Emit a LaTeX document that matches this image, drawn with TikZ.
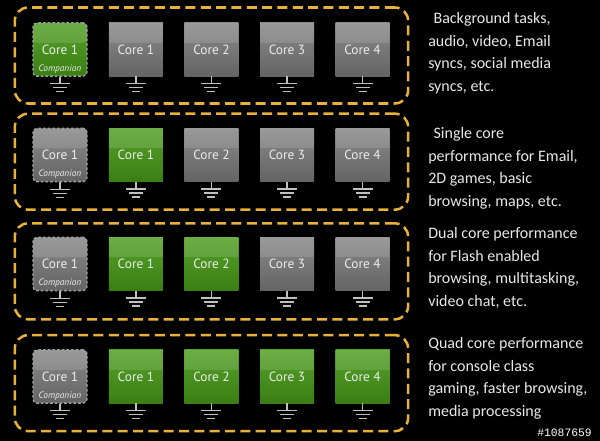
\documentclass[tikz,border=0pt]{standalone}
\usepackage{fontspec}
\setmainfont{Carlito}
\newfontfamily\corefont{PT Sans}
\newfontfamily\tagfont{Liberation Mono}
\usepackage{xcolor}
\usepackage{tikz}
\usetikzlibrary{positioning}

\definecolor{frameyellow}{RGB}{232,178,58}
\definecolor{grayhi}{RGB}{138,138,138}
\definecolor{graylo}{RGB}{100,100,100}
\definecolor{greenhi}{RGB}{86,162,42}
\definecolor{greenlo}{RGB}{58,126,20}
\definecolor{corefg}{RGB}{236,236,236}
\definecolor{notefg}{RGB}{232,232,232}
\definecolor{gndgray}{RGB}{192,192,192}

\begin{document}
\begin{tikzpicture}[
    x=0.75pt, y=-0.75pt,
    node distance=15.75pt,
    core/.style={rectangle, minimum width=40.5pt, minimum height=40pt, inner sep=0pt, top color=grayhi, bottom color=graylo, text=corefg, font=\corefont\fontsize{10}{11}\selectfont,
        path picture={\fill[white, opacity=0.13] (path picture bounding box.north west) rectangle ([yshift=-15pt]path picture bounding box.north east);}},
    active/.style={top color=greenhi, bottom color=greenlo},
    companion/.style={core, draw=gray!75, line width=1pt, dash pattern=on 2pt off 1.5pt, rounded corners=3pt, label={[comptag]south:Companion}},
    comptag/.style={anchor=south, yshift=2.5pt, inner sep=0pt, text=corefg, font=\corefont\itshape\fontsize{7}{8}\selectfont},
    group/.style={draw=frameyellow, line width=1.9pt, dash pattern=on 7.5pt off 4pt, rounded corners=10pt, minimum width=295pt, minimum height=72pt, inner sep=0pt},
    note/.style={anchor=north west, align=left, inner sep=0pt, text=notefg, font=\fontsize{12}{17}\selectfont},
    tag/.style={anchor=base east, inner sep=0pt, text=white, font=\tagfont\fontsize{8.5}{10}\selectfont},
    pics/ground/.style={code={\draw[gndgray, line width=1pt] (0,0) -- (0,7) (-10,7) -- (10,7) (-7,11) -- (7,11) (-4,15) -- (4,15);}}
]
    % Fondo
    \fill[black] (0,0) rectangle (600,441);
    \useasboundingbox (0,0) rectangle (600,441);

    % Fila 1: solo el nucleo acompanante
    \node[companion, active] (a0) at (60,49.5) {Core 1};
    \node[core, right=of a0] (a1) {Core 1};
    \node[core, right=of a1] (a2) {Core 2};
    \node[core, right=of a2] (a3) {Core 3};
    \node[core, right=of a3] (a4) {Core 4};

    % Fila 2: un nucleo
    \node[companion] (b0) at (60,155) {Core 1};
    \node[core, active, right=of b0] (b1) {Core 1};
    \node[core, right=of b1] (b2) {Core 2};
    \node[core, right=of b2] (b3) {Core 3};
    \node[core, right=of b3] (b4) {Core 4};

    % Fila 3: dos nucleos
    \node[companion] (c0) at (60,264) {Core 1};
    \node[core, active, right=of c0] (c1) {Core 1};
    \node[core, active, right=of c1] (c2) {Core 2};
    \node[core, right=of c2] (c3) {Core 3};
    \node[core, right=of c3] (c4) {Core 4};

    % Fila 4: cuatro nucleos
    \node[companion] (d0) at (60,376.5) {Core 1};
    \node[core, active, right=of d0] (d1) {Core 1};
    \node[core, active, right=of d1] (d2) {Core 2};
    \node[core, active, right=of d2] (d3) {Core 3};
    \node[core, active, right=of d3] (d4) {Core 4};

    % Tierras
    \path (a0.south) pic {ground} (a1.south) pic {ground} (a2.south) pic {ground} (a3.south) pic {ground} (a4.south) pic {ground};
    \path (b0.south) pic {ground} (b1.south) pic {ground} (b2.south) pic {ground} (b3.south) pic {ground} (b4.south) pic {ground};
    \path (c0.south) pic {ground} (c1.south) pic {ground} (c2.south) pic {ground} (c3.south) pic {ground} (c4.south) pic {ground};
    \path (d0.south) pic {ground} (d1.south) pic {ground} (d2.south) pic {ground} (d3.south) pic {ground} (d4.south) pic {ground};

    % Marcos
    \node[group] (g1) at ([yshift=-4.5pt]a2) {};
    \node[group] (g2) at ([yshift=-5pt]b2) {};
    \node[group] (g3) at ([yshift=-5.5pt]c2) {};
    \node[group] (g4) at ([yshift=-5pt]d2) {};

    % Textos
    \node[note] (t1) at (428,12) {\hspace*{4pt}Background tasks,\\audio, video, Email\\syncs, social media\\syncs, etc.};
    \node[note] (t2) at (428,127) {\hspace*{4pt}Single core\\performance for Email,\\2D games, basic\\browsing, maps, etc.};
    \node[note] (t3) at (428,227) {Dual core performance\\for Flash enabled\\browsing, multitasking,\\video chat, etc.};
    \node[note] (t4) at (428,337) {Quad core performance\\for console class\\gaming, faster browsing,\\media processing};

    % Marca
    \node[tag] (id) at (592,437) {\#1087659};
\end{tikzpicture}
\end{document}
